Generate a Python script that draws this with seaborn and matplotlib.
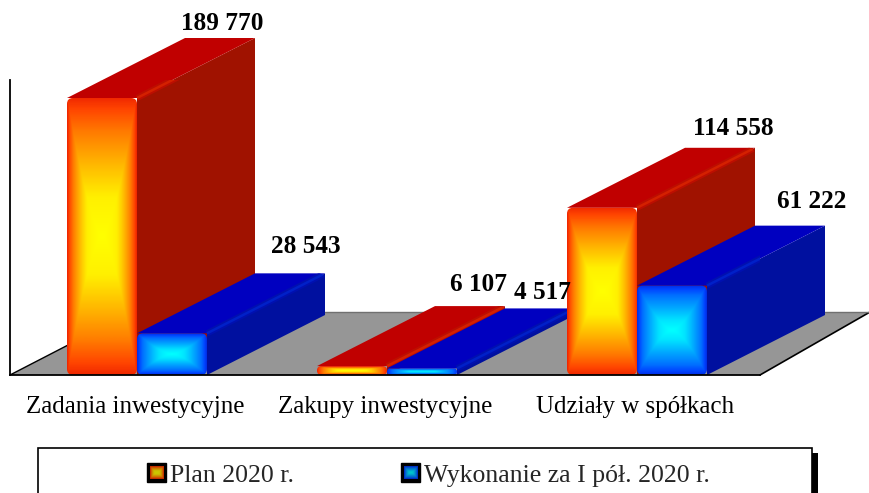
import numpy as np
import pandas as pd
import matplotlib
matplotlib.use("Agg")
import matplotlib.pyplot as plt
import seaborn as sns
from matplotlib.colors import LinearSegmentedColormap
from matplotlib.patches import Polygon, Patch, PathPatch, FancyBboxPatch, Rectangle
from matplotlib.path import Path
from matplotlib.transforms import IdentityTransform, ScaledTranslation

categories = ["Zadania inwestycyjne", "Zakupy inwestycyjne", "Udziały w spółkach"]
series_names = ["Plan 2020 r.", "Wykonanie za I pół. 2020 r."]
plan_values = [189770, 6107, 114558]
actual_values = [28543, 4517, 61222]

W, H = 870, 493
sns.set_theme(style="white")
plt.rcParams["font.family"] = ["Liberation Serif", "DejaVu Serif"]

fig = plt.figure(figsize=(W / 100, H / 100), dpi=100)
ax = fig.add_axes([10 / W, (H - 375) / H, 750 / W, 295 / H])

df = pd.DataFrame({
    "category": categories * 2,
    "series": [series_names[0]] * 3 + [series_names[1]] * 3,
    "value": plan_values + actual_values,
})
sns.barplot(data=df, x="category", y="value", hue="series", order=categories,
            hue_order=series_names, palette=["#FF6000", "#0080FF"], width=0.56,
            gap=0, dodge=True, legend=False, errorbar=None, saturation=1, ax=ax)

ax.set_xlim(-0.508, 2.492)
ax.set_ylim(0, 202100)
ax.set_xlabel("")
ax.set_ylabel("")
ax.set_yticks([])
ax.tick_params(axis="x", length=0, pad=15, labelsize=18, colors="black")
for lab in ax.get_xticklabels():
    lab.set_transform(lab.get_transform() + ScaledTranslation(-2 / 100, 0, fig.dpi_scale_trans))
for s in ("top", "right"):
    ax.spines[s].set_visible(False)
for s in ("left", "bottom"):
    ax.spines[s].set_color("black")
    ax.spines[s].set_linewidth(1.3)
    ax.spines[s].set_zorder(50)

# depth of the pseudo-3D projection, in data units
DX = 118 / 250
DY = 60 * 685
xmin, xmax = ax.get_xlim()
trans = ax.transData

# floor
floor = Polygon([(xmin, 0), (xmax, 0), (xmax + 110 / 250, 63 * 685), (xmin + 122 / 250, 63 * 685)],
                closed=True, facecolor="#969696", edgecolor="none", zorder=1, clip_on=False)
ax.add_patch(floor)
ax.plot([xmin, xmin + 122 / 250], [0, 63 * 685], color="black", lw=1, zorder=2, clip_on=False)
ax.plot([xmax, xmax + 110 / 250], [0, 63 * 685], color="black", lw=1.2, zorder=2, clip_on=False)
ax.plot([xmin + 122 / 250, xmax + 110 / 250], [63 * 685] * 2, color="#707070", lw=1, zorder=2, clip_on=False)

red_cmap = LinearSegmentedColormap.from_list(
    "r", [(0, "#FFFF00"), (0.28, "#FFF000"), (0.5, "#FFBC00"), (0.75, "#FF7C00"), (0.92, "#FF4400"), (1, "#F02800")])
blue_cmap = LinearSegmentedColormap.from_list(
    "b", [(0, "#00FFFF"), (0.22, "#00E4FF"), (0.5, "#00A8FF"), (0.78, "#0070FF"), (0.92, "#0044FF"), (1, "#0030E8")])


def box_gradient(nx, ny, bevel=9.0):
    """Rectangular gradient, with a narrow bevel along the edges (sizes in pixels)."""
    nx, ny = max(int(nx), 2), max(int(ny), 2)
    u = np.linspace(-1, 1, nx)
    v = np.linspace(-1, 1, ny)
    uu, vv = np.meshgrid(u, v)
    t = np.maximum(np.abs(uu) ** 1.5, np.abs(vv))
    bevel = min(bevel, ny * 0.2)
    d = np.minimum((1 - np.abs(uu)) * nx / 2, (1 - np.abs(vv)) * ny / 2)
    return np.maximum(t, 1 - d / bevel)


def rounded_polygon(points, radii):
    """Closed path in pixels through data points, with rounded corners."""
    pts = trans.transform(points)
    n = len(pts)
    verts, codes = [], []
    for k in range(n):
        p, prev, nxt = pts[k], pts[k - 1], pts[(k + 1) % n]
        a, b = prev - p, nxt - p
        la, lb = np.hypot(*a), np.hypot(*b)
        r = min(radii[k], la / 2, lb / 2)
        start, end = p + a / la * r, p + b / lb * r
        verts.append(start)
        codes.append(Path.MOVETO if k == 0 else Path.LINETO)
        verts += [p, end]
        codes += [Path.CURVE3, Path.CURVE3]
    verts.append(verts[0])
    codes.append(Path.CLOSEPOLY)
    return Path(verts, codes)


styles = [
    dict(cmap=red_cmap, top="#C00000", side="#A01200", edge="#D42000", soft="#BC0E00"),
    dict(cmap=blue_cmap, top="#0000C0", side="#00109F", edge="#0020C8", soft="#0010B0"),
]

bars = sorted([p for p in ax.patches if isinstance(p, Rectangle) and p.get_height() > 0], key=lambda p: p.get_x())
for i, bar in enumerate(bars):
    st = styles[i % 2]
    z = 5 + i * 5
    x0, x1 = bar.get_x(), bar.get_x() + bar.get_width()
    h = bar.get_height()
    # outline of the top and side faces: rounded at the back corners
    outline = PathPatch(
        rounded_polygon([(x0, h), (x0 + DX, h + DY), (x1 + DX, h + DY), (x1 + DX, DY), (x1, 0), (x0, 0)],
                        [0, 7, 7, 0, 0, 0]),
        transform=IdentityTransform(), facecolor="none", edgecolor="none")
    side = Polygon([(x1, 0), (x1 + DX, DY), (x1 + DX, h + DY), (x1, h)], closed=True,
                   facecolor=st["side"], edgecolor="none", zorder=z, clip_on=False)
    top = Polygon([(x0, h), (x1, h), (x1 + DX, h + DY), (x0 + DX, h + DY)], closed=True,
                  facecolor=st["top"], edgecolor="none", zorder=z + 1, clip_on=False)
    ax.add_patch(side)
    ax.add_patch(top)
    side.set_clip_path(outline)
    top.set_clip_path(outline)
    soft, = ax.plot([x1, x1 + DX], [h, h + DY], color=st["soft"], lw=4.5, zorder=z + 1.4,
                    solid_capstyle="butt", clip_on=True)
    sharp, = ax.plot([x1, x1 + DX], [h, h + DY], color=st["edge"], lw=1.8, zorder=z + 1.5,
                     solid_capstyle="butt", clip_on=True)
    soft.set_clip_path(outline)
    sharp.set_clip_path(outline)
    # gradient front face, clipped to a rounded rectangle
    (px0, py0), (px1, py1) = trans.transform([(x0, 0), (x1, h)])
    r = min(6, (py1 - py0) / 2)
    clip = FancyBboxPatch((px0 + r, py0 + r), px1 - px0 - 2 * r, py1 - py0 - 2 * r,
                          boxstyle=f"round,pad={r},rounding_size={r}",
                          transform=IdentityTransform(), facecolor="none", edgecolor="none")
    im = ax.imshow(box_gradient(px1 - px0, py1 - py0), extent=(x0, x1, 0, h), cmap=st["cmap"],
                   vmin=0, vmax=1, aspect="auto", origin="lower", zorder=z + 3, interpolation="bilinear")
    im.set_clip_path(clip)
    bar.set_visible(False)

ax.set_xlim(xmin, xmax)
ax.set_ylim(0, 202100)

# value labels (offset from the back top of each bar, in pixels)
label_offsets = [(2, 15), (16, 27), (9, 22), (2, 16), (13, 19), (22, 24)]
ordered_values = [v for pair in zip(plan_values, actual_values) for v in pair]
for bar, v, (ox, oy) in zip(bars, ordered_values, label_offsets):
    ax.annotate(f"{v:,}".replace(",", " "),
                (bar.get_x() + bar.get_width() / 2 + DX, v + DY),
                xytext=(ox * 0.72, oy * 0.72), textcoords="offset points",
                ha="center", va="center", fontsize=18.2, fontweight="bold",
                color="black", zorder=100, annotation_clip=False)

# legend box, cut by the lower edge of the picture
fig.add_artist(Rectangle((38 / W, -5 / H), 774 / W, (H - 448 + 5) / H, transform=fig.transFigure,
                         facecolor="white", edgecolor="black", lw=1.2))
fig.add_artist(Rectangle((812 / W, -5 / H), 6 / W, (H - 453 + 5) / H, transform=fig.transFigure,
                         facecolor="black", edgecolor="none"))
handles = [Patch(facecolor="black", edgecolor="black", label=series_names[0]),
           Patch(facecolor="black", edgecolor="black", label=series_names[1])]
leg = fig.legend(handles=handles, ncol=2, frameon=False, fontsize=18.5,
                 loc="center left", bbox_to_anchor=(147 / W, (H - 475) / H),
                 handlelength=0.75, handleheight=0.75, handletextpad=0.16,
                 columnspacing=4.15, borderpad=0, borderaxespad=0)
fig.canvas.draw()
for patch, st in zip(leg.get_patches(), styles):
    bb = patch.get_window_extent()
    sw = fig.add_axes([(bb.x0 + 3) / W, (bb.y0 + 3) / H, (bb.width - 6) / W, (bb.height - 6) / H])
    sw.set_zorder(10)
    sw.imshow(box_gradient(40, 40, 1), cmap=st["cmap"], vmin=0, vmax=1, aspect="auto", alpha=0.8)
    sw.axis("off")

fig.savefig("out.png", dpi=100)
